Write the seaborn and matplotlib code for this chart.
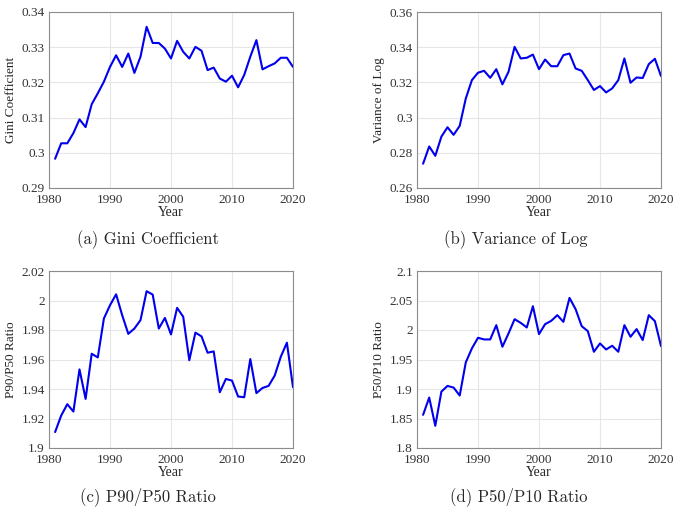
import numpy as np
import pandas as pd
import matplotlib
matplotlib.use("Agg")
import matplotlib.pyplot as plt
import seaborn as sns

years = list(range(1981, 2021))

gini = [0.2983, 0.3027, 0.3027, 0.3056, 0.3095, 0.3073, 0.3138, 0.3169, 0.3202, 0.3244,
        0.3277, 0.3244, 0.3282, 0.3227, 0.3273, 0.3358, 0.3312, 0.3312, 0.3296, 0.3268,
        0.3318, 0.3287, 0.3268, 0.3301, 0.3290, 0.3235, 0.3242, 0.3211, 0.3202, 0.3219,
        0.3186, 0.3221, 0.3273, 0.3320, 0.3237, 0.3246, 0.3254, 0.3270, 0.3270, 0.3244]

var_log = [0.2738, 0.2836, 0.2783, 0.2892, 0.2945, 0.2902, 0.2953, 0.3109, 0.3213, 0.3255,
           0.3266, 0.3226, 0.3275, 0.3189, 0.3260, 0.3402, 0.3336, 0.3340, 0.3358, 0.3275,
           0.3330, 0.3292, 0.3292, 0.3355, 0.3364, 0.3279, 0.3266, 0.3213, 0.3157, 0.3179,
           0.3143, 0.3166, 0.3213, 0.3336, 0.3198, 0.3228, 0.3225, 0.3304, 0.3334, 0.3236]

p90_p50 = [1.9108, 1.9220, 1.9297, 1.9247, 1.9533, 1.9333, 1.9639, 1.9614, 1.9878, 1.9968,
           2.0042, 1.9900, 1.9774, 1.9810, 1.9867, 2.0063, 2.0040, 1.9810, 1.9882, 1.9770,
           1.9950, 1.9890, 1.9595, 1.9782, 1.9757, 1.9646, 1.9655, 1.9378, 1.9468, 1.9457,
           1.9349, 1.9344, 1.9603, 1.9372, 1.9407, 1.9421, 1.9491, 1.9619, 1.9714, 1.9412]

p50_p10 = [1.8562, 1.8855, 1.8376, 1.8956, 1.9052, 1.9024, 1.8889, 1.9452, 1.9688, 1.9868,
           1.9840, 1.9840, 2.0082, 1.9716, 1.9941, 2.0183, 2.0121, 2.0043, 2.0403, 1.9930,
           2.0099, 2.0155, 2.0251, 2.0138, 2.0544, 2.0353, 2.0065, 1.9981, 1.9631, 1.9772,
           1.9670, 1.9733, 1.9631, 2.0082, 1.9885, 2.0015, 1.9829, 2.0251, 2.0150, 1.9727]

ylabels = ["Gini Coefficient", "Variance of Log", "P90/P50 Ratio", "P50/P10 Ratio"]
captions = ["(a) Gini Coefficient", "(b) Variance of Log", "(c) P90/P50 Ratio", "(d) P50/P10 Ratio"]
ylims = [(0.29, 0.34), (0.26, 0.36), (1.9, 2.02), (1.8, 2.1)]
yticks = [
    [0.29, 0.30, 0.31, 0.32, 0.33, 0.34],
    [0.26, 0.28, 0.30, 0.32, 0.34, 0.36],
    [1.90, 1.92, 1.94, 1.96, 1.98, 2.00, 2.02],
    [1.80, 1.85, 1.90, 1.95, 2.00, 2.05, 2.10],
]
xticks = [1980, 1990, 2000, 2010, 2020]

sns.set_style("whitegrid")
plt.rcParams["font.family"] = ["Liberation Serif", "DejaVu Serif"]

fig = plt.figure(figsize=(6.8, 5.16), dpi=100)
W, H = 680, 516
# panel boxes in pixels: left, top, right, bottom
boxes = [(49, 12, 293, 188), (417, 12, 661, 188), (49, 271, 293, 448), (417, 271, 661, 448)]
cap_pos = [(148, 240), (516, 240), (148, 497), (519, 497)]

series = [gini, var_log, p90_p50, p50_p10]

def fmt(v):
    s = f"{v:.2f}".rstrip("0").rstrip(".")
    return s

for i in range(4):
    l, t, r, b = boxes[i]
    ax = fig.add_axes([l / W, 1 - b / H, (r - l) / W, (b - t) / H])
    df = pd.DataFrame({"Year": years, "value": series[i]})
    sns.lineplot(data=df, x="Year", y="value", ax=ax, color="#0000ee", linewidth=1.5)
    ax.set_xlim(1980, 2020)
    ax.set_ylim(*ylims[i])
    ax.set_xticks(xticks)
    ax.set_yticks(yticks[i])
    ax.set_yticklabels([fmt(v) for v in yticks[i]])
    ax.set_xlabel("Year", fontsize=10, labelpad=0)
    ax.set_ylabel(ylabels[i], fontsize=9.5, labelpad=3)
    ax.tick_params(axis="both", labelsize=9.5, colors="#333333", length=0)
    ax.tick_params(axis="x", pad=4)
    ax.tick_params(axis="y", pad=3)
    ax.grid(True, color="#e6e6e6", linewidth=0.8)
    for sp in ax.spines.values():
        sp.set_color("#8c8c8c")
        sp.set_linewidth(0.8)
    cx, cy = cap_pos[i]
    fig.text(cx / W, 1 - cy / H, captions[i], ha="center", va="center",
             fontsize=12, family=["cmr10", "DejaVu Serif"])

fig.savefig("out.png", dpi=100)
